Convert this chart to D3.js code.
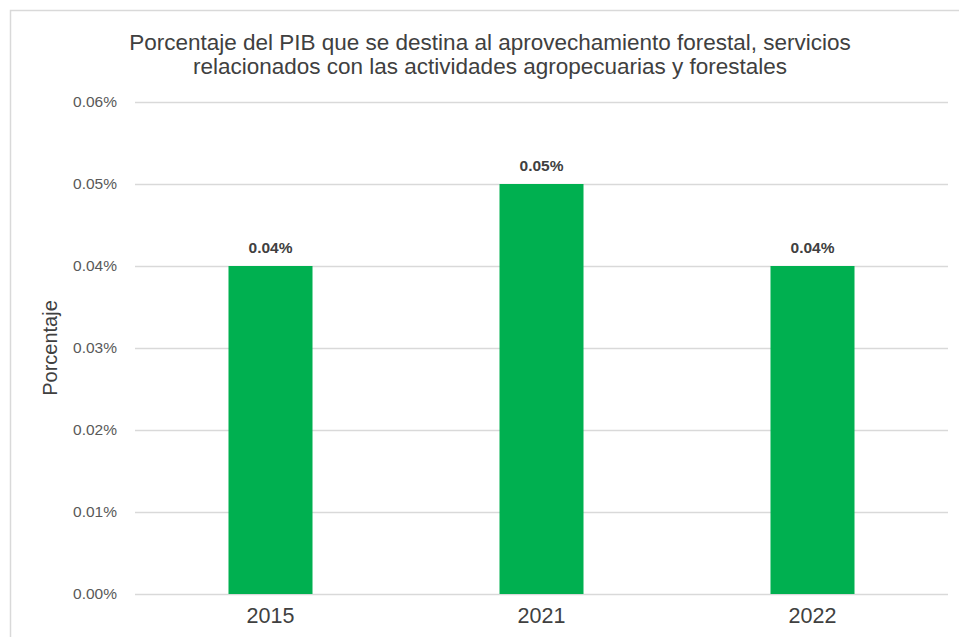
<!DOCTYPE html>
<html>
<head>
<meta charset="utf-8">
<script src="https://cdn.jsdelivr.net/npm/d3@7"></script>
<style>
  html, body { margin: 0; padding: 0; background: #fff; }
  svg { display: block; font-family: "Liberation Sans", Arial, sans-serif; }
</style>
</head>
<body>
<svg id="chart" width="959" height="637"></svg>
<script>
// Chart data
const years = ["2015", "2021", "2022"];
const values = [0.04, 0.05, 0.04];
const yTicks = [0, 0.01, 0.02, 0.03, 0.04, 0.05, 0.06];
const titleLines = [
  "Porcentaje del PIB que se destina al aprovechamiento forestal, servicios",
  "relacionados con las actividades agropecuarias y forestales"
];
const yTitle = "Porcentaje";

const svg = d3.select("#chart");
const fmt = v => v.toFixed(2) + "%";

// Outer frame
svg.append("rect")
  .attr("x", 10.5).attr("y", 10.5)
  .attr("width", 1000).attr("height", 1000)
  .attr("fill", "#fff")
  .attr("stroke", "#d9d9d9").attr("stroke-width", 1.5);

const plot = { left: 135, right: 948, top: 102, bottom: 594 };

const x = d3.scaleBand()
  .domain(years)
  .range([plot.left, plot.right])
  .paddingInner(0.69)
  .paddingOuter(0.345);

const y = d3.scaleLinear()
  .domain([0, 0.06])
  .range([plot.bottom, plot.top]);

// Gridlines
svg.append("g")
  .selectAll("line")
  .data(yTicks)
  .join("line")
  .attr("x1", plot.left).attr("x2", plot.right)
  .attr("y1", d => Math.round(y(d)) + 0.5)
  .attr("y2", d => Math.round(y(d)) + 0.5)
  .attr("stroke", "#d9d9d9").attr("stroke-width", 1.3);

// Y axis labels
const yAxis = svg.append("g")
  .attr("transform", `translate(${plot.left - 18},0)`)
  .call(d3.axisLeft(y).tickValues(yTicks).tickFormat(fmt).tickSize(0).tickPadding(0));
yAxis.select(".domain").remove();
yAxis.selectAll("text")
  .attr("fill", "#595959")
  .style("font-size", "15.5px")
  .style("font-family", "Liberation Sans, Arial, sans-serif");

// Bars
svg.append("g")
  .selectAll("rect")
  .data(years.map((yr, i) => ({ yr, v: values[i] })))
  .join("rect")
  .attr("x", d => x(d.yr))
  .attr("width", x.bandwidth())
  .attr("y", d => y(d.v))
  .attr("height", d => y(0) - y(d.v))
  .attr("fill", "#00b050");

// Value labels
svg.append("g")
  .selectAll("text")
  .data(years.map((yr, i) => ({ yr, v: values[i] })))
  .join("text")
  .attr("x", d => x(d.yr) + x.bandwidth() / 2)
  .attr("y", d => y(d.v) - 13)
  .attr("text-anchor", "middle")
  .attr("fill", "#404040")
  .style("font-size", "15.5px")
  .style("font-weight", "bold")
  .text(d => fmt(d.v));

// X axis labels
const xAxis = svg.append("g")
  .attr("transform", `translate(0,${plot.bottom})`)
  .call(d3.axisBottom(x).tickSize(0).tickPadding(14));
xAxis.select(".domain").remove();
xAxis.selectAll("text")
  .attr("fill", "#404040")
  .style("font-size", "21.5px")
  .style("font-family", "Liberation Sans, Arial, sans-serif");

// Y axis title
svg.append("text")
  .attr("transform", `translate(57,${(plot.top + plot.bottom) / 2}) rotate(-90)`)
  .attr("text-anchor", "middle")
  .attr("fill", "#404040")
  .style("font-size", "20px")
  .text(yTitle);

// Title
svg.append("g")
  .selectAll("text")
  .data(titleLines)
  .join("text")
  .attr("x", 490)
  .attr("y", (d, i) => 50 + i * 24)
  .attr("text-anchor", "middle")
  .attr("fill", "#404040")
  .style("font-size", "22.5px")
  .text(d => d);
</script>
</body>
</html>
